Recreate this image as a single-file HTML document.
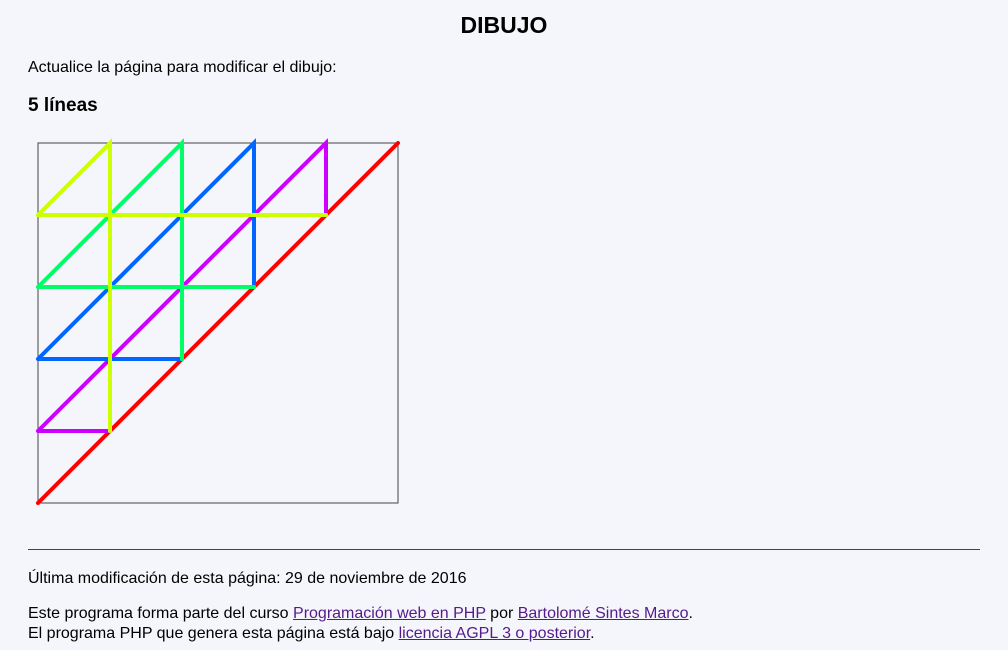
<!DOCTYPE html>
<html><head><meta charset="utf-8"><style>
body{margin:0;background:#f5f6fb;font-family:"Liberation Sans",sans-serif;color:#000;width:1008px;height:650px;overflow:hidden;position:relative}
.a{position:absolute;white-space:nowrap}
a{color:#551a8b}
</style></head><body>
<div class="a" style="left:0;width:1008px;text-align:center;top:12px;font-size:23px;font-weight:bold">DIBUJO</div>
<div class="a" style="left:28px;top:59px;font-size:16px">Actualice la página para modificar el dibujo:</div>
<div class="a" style="left:28px;top:95px;font-size:19px;font-weight:bold">5 líneas</div>
<svg class="a" style="left:0;top:0" width="1008" height="650">
<rect x="38" y="143" width="360" height="360" fill="none" stroke="#444" stroke-width="1"/>
<g id="lines"></g>
</svg>
<div class="a" style="left:28px;top:549px;width:952px;height:1px;background:#444"></div>
<div class="a" style="left:28px;top:570px;font-size:16px">Última modificación de esta página: 29 de noviembre de 2016</div>
<div class="a" style="left:28px;top:605px;font-size:16px">Este programa forma parte del curso <a href="#">Programación web en PHP</a> por <a href="#">Bartolomé Sintes Marco</a>.</div>
<div class="a" style="left:28px;top:625px;font-size:16px">El programa PHP que genera esta página está bajo <a href="#">licencia AGPL 3 o posterior</a>.</div>
<script>
const lineSizes=[5,4,3,2,1];
const lineColors=["#ff0000","#cc00ff","#0066ff","#00ff66","#ccff00"];
const gridCells=5;
const X0=38,Y0=143,S=360;
const sx=v=>X0+v*S/gridCells, sy=v=>Y0+v*S/gridCells;
const g=document.getElementById('lines');
lineSizes.forEach((k,i)=>{
  const p=document.createElementNS('http://www.w3.org/2000/svg','path');
  const e=gridCells-k;
  p.setAttribute('d',`M${sx(0)},${sy(k)}L${sx(k)},${sy(0)}L${sx(k)},${sy(e)}M${sx(0)},${sy(k)}L${sx(e)},${sy(k)}`);
  p.setAttribute('stroke',lineColors[i]);
  p.setAttribute('stroke-width','4');
  p.setAttribute('fill','none');
  p.setAttribute('stroke-linecap','round');
  
  
  g.appendChild(p);
});
</script>
</body></html>
